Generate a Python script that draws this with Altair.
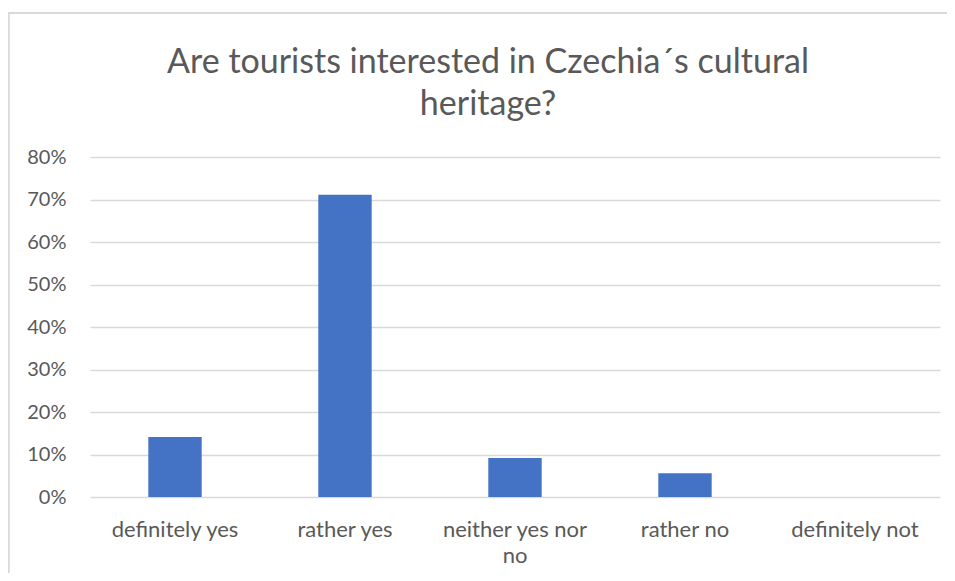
import altair as alt
import pandas as pd

categories = ["definitely yes", "rather yes", "neither yes nor no", "rather no", "definitely not"]
shares = [0.141, 0.711, 0.092, 0.056, 0.0]
y_ticks = [0.0, 0.1, 0.2, 0.3, 0.4, 0.5, 0.6, 0.7, 0.8]
title_lines = ["Are tourists interested in Czechia\u00b4s cultural", "heritage?"]

df = pd.DataFrame({"answer": categories, "share": shares})

FONT = "Lato"
GREY = "#595959"
GRID = "#d9d9d9"

bars = alt.Chart(df).mark_bar(color="#4472C4").encode(
    x=alt.X(
        "answer:N",
        sort=categories,
        title=None,
        scale=alt.Scale(paddingInner=0.686, paddingOuter=0.343),
        axis=alt.Axis(
            labelAngle=0,
            labelFont=FONT,
            labelFontSize=22,
            labelColor=GREY,
            labelPadding=22,
            labelLineHeight=26,
            labelExpr="datum.label == 'neither yes nor no' ? ['neither yes nor', 'no'] : datum.label",
            ticks=False,
            domain=False,
            grid=False,
        ),
    ),
    y=alt.Y(
        "share:Q",
        title=None,
        scale=alt.Scale(domain=[0, 0.8], nice=False),
        axis=alt.Axis(
            values=y_ticks,
            format=".0%",
            labelFont=FONT,
            labelFontSize=20,
            labelColor=GREY,
            labelPadding=24,
            ticks=False,
            domain=False,
            grid=True,
            gridColor=GRID,
            gridWidth=1.3,
        ),
    ),
)

frame_top = alt.Chart(df).mark_rule(color=GRID, strokeWidth=1.5).encode(
    x=alt.value(-82), x2=alt.value(857), y=alt.value(-144)
)
frame_left = alt.Chart(df).mark_rule(color=GRID, strokeWidth=1.5).encode(
    x=alt.value(-81.5), y=alt.value(-144), y2=alt.value(416)
)

chart = alt.layer(frame_top, frame_left, bars).properties(
    width=850,
    height=340,
    title=alt.TitleParams(
        text=title_lines,
        font=FONT,
        fontSize=34,
        fontWeight="normal",
        color=GREY,
        lineHeight=42,
        anchor="middle",
        offset=-110,
        dx=-27,
    ),
    autosize=alt.AutoSizeParams(type="none"),
    padding={"left": 82, "top": 149, "right": 7, "bottom": 76},
).configure_view(stroke=None)

chart.save("out.html", embed_options={"renderer": "svg", "actions": False})
